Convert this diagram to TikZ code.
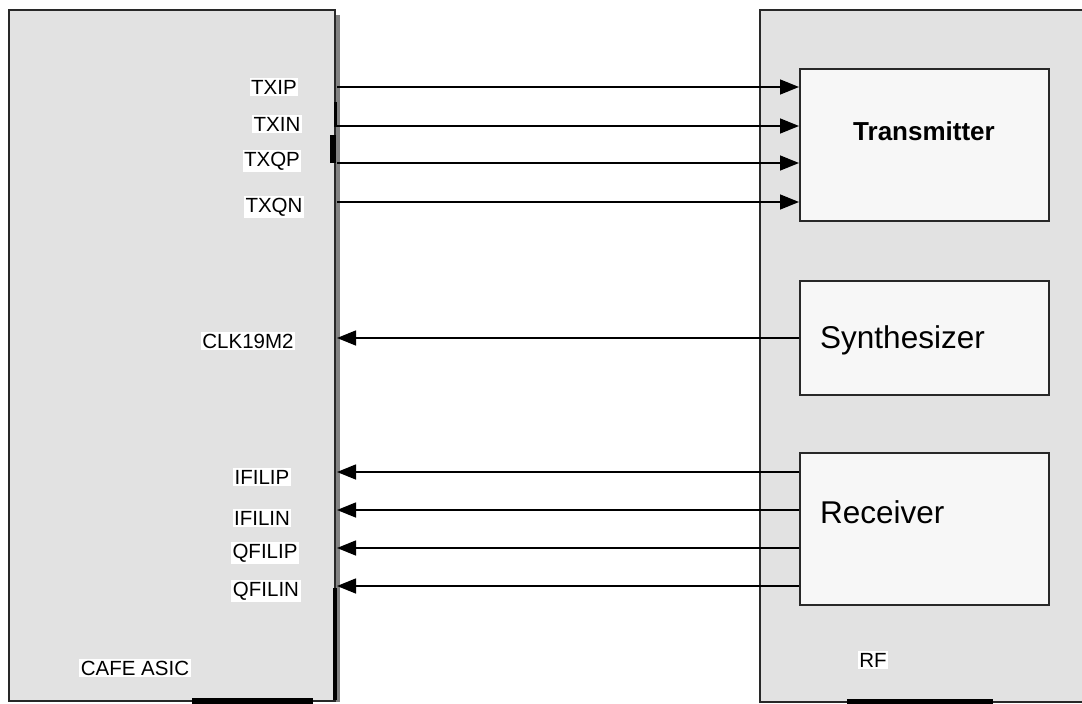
\documentclass[tikz,border=0pt]{standalone}
\usepackage{fontspec}
\setmainfont{Liberation Sans}
\usetikzlibrary{arrows.meta}
\definecolor{boxgray}{RGB}{226,226,226}
\definecolor{inner}{RGB}{247,247,247}
\definecolor{edge}{RGB}{40,40,40}
\definecolor{shadow}{RGB}{130,130,130}
\begin{document}
\begin{tikzpicture}[x=1pt,y=-1pt,
  outer/.style={draw=edge,line width=1.8pt,fill=boxgray},
  block/.style={draw=edge,line width=1.8pt,fill=inner,anchor=north west,inner sep=0pt},
  pin/.style={fill=white,inner sep=1.5pt,font=\fontsize{20.5}{22}\selectfont},
  big/.style={font=\fontsize{31.5}{34}\selectfont},
  arr/.style={line width=1.5pt,-{Triangle[length=19pt,width=15pt]}}
]
\useasboundingbox (0,0) rectangle (1082,704);
\clip (0,0) rectangle (1082,704);
\fill[white] (0,0) rectangle (1082,704);
% outer boxes
\fill[shadow] (334,15) rectangle (340,702);
\node[outer,minimum width=326pt,minimum height=691pt,anchor=north west,inner sep=0pt] (asic) at (8,9) {};
\node[outer,minimum width=340pt,minimum height=692pt,anchor=north west,inner sep=0pt] (rf) at (759,9) {};
% artifacts: thick black bits
\fill[black] (334,102) rectangle (337,127);
\fill[black] (330,135) rectangle (336,163);
\fill[black] (333,588) rectangle (337,700);
\fill[black] (192,698) rectangle (313,704);
\fill[black] (847,699) rectangle (993,704);
% inner blocks
\node[block,minimum width=249pt,minimum height=152pt] (tx) at (799,68) {};
\node[block,minimum width=249pt,minimum height=114pt] (synth) at (799,280) {};
\node[block,minimum width=249pt,minimum height=152pt] (rx) at (799,452) {};
\node[font=\bfseries\fontsize{26}{28}\selectfont] (txl) at (924,131) {Transmitter};
\node[big,anchor=west,inner sep=0pt] (synl) at (820,340) {Synthesizer};
\node[big,anchor=west,inner sep=0pt] (rxl) at (820,512) {Receiver};
% labels
\node[pin] (l1) at (274,87) {TXIP};
\node[pin] (l2) at (277,124) {TXIN};
\node[pin] (l3) at (272,161) {TXQP};
\node[pin] (l4) at (274,207) {TXQN};
\node[pin] (l5) at (248,341) {CLK19M2};
\node[pin] (l6) at (262,477) {IFILIP};
\node[pin] (l7) at (262,518) {IFILIN};
\node[pin] (l8) at (265,553) {QFILIP};
\node[pin] (l9) at (266,591) {QFILIN};
\node[pin] (l10) at (135,668) {CAFE ASIC};
\node[pin] (l11) at (873,660) {RF};
% port coordinates on ASIC edge
\coordinate (p1) at (337,87);
\coordinate (p2) at (337,126);
\coordinate (p3) at (337,163);
\coordinate (p4) at (337,202);
\coordinate (p5) at (337,338);
\coordinate (p6) at (337,472);
\coordinate (p7) at (337,510);
\coordinate (p8) at (337,548);
\coordinate (p9) at (337,586);
% connectors
\draw[arr] (p1) -- (tx.west |- p1);
\draw[arr] (p2) -- (tx.west |- p2);
\draw[arr] (p3) -- (tx.west |- p3);
\draw[arr] (p4) -- (tx.west |- p4);
\draw[arr] (synth.west |- p5) -- (p5);
\draw[arr] (rx.west |- p6) -- (p6);
\draw[arr] (rx.west |- p7) -- (p7);
\draw[arr] (rx.west |- p8) -- (p8);
\draw[arr] (rx.west |- p9) -- (p9);
\end{tikzpicture}
\end{document}
